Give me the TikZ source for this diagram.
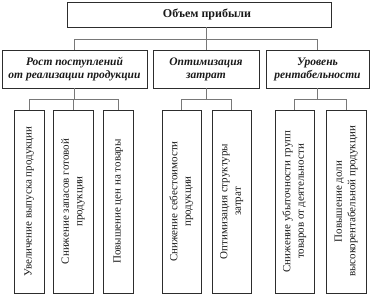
\documentclass[tikz,border=0pt]{standalone}
\usepackage{fontspec}
\setmainfont{Liberation Serif}
\usepackage{graphicx}
\usepackage{xcolor}
\usepackage{tikz}
\usetikzlibrary{positioning,calc}
\definecolor{boxline}{RGB}{45,45,45}
\definecolor{linkline}{RGB}{120,120,120}
\definecolor{textdark}{RGB}{25,25,25}
\newcommand{\vtext}[1]{\rotatebox{90}{\begin{tabular}{@{}c@{}}#1\end{tabular}}}

\begin{document}
\begin{tikzpicture}[x=1pt, y=-1pt, toplevel/.style={draw=boxline, line width=0.8pt, minimum height=25pt, inner sep=0pt, text=textdark, font=\fontsize{12}{14}\selectfont\bfseries}, factor/.style={draw=boxline, line width=0.8pt, minimum height=38pt, inner sep=0pt, align=center, text=textdark, font=\fontsize{11.5}{13}\selectfont\bfseries\itshape}, measure/.style={draw=boxline, line width=0.8pt, minimum height=183pt, inner sep=0pt, text=textdark, font=\fontsize{11}{13.5}\selectfont}, link/.style={draw=linkline, line width=0.6pt}]
\useasboundingbox (0,0) rectangle (376,300);
\node[toplevel, minimum width=264pt] (profit) at (199,14.5) {\hspace*{16pt}Объем прибыли};
\node[factor, minimum width=145pt] (revenue) at (74.5,69) {Рост поступлений\\от реализации продукции};
\node[factor, minimum width=106pt] (costs) at (206,69) {Оптимизация\\затрат};
\node[factor, minimum width=103pt] (rate) at (317.5,69) {Уровень\\рентабельности};
\coordinate (bus1) at (0,39);
\draw[link] (costs.north) -- (costs.north |- profit.south);
\draw[link] (revenue.north) |- (rate.north |- bus1) -- (rate.north);
% level 3
\node[measure, minimum width=30pt] (m1) at (29,201.5) {\vtext{Увеличение выпуска продукции}};
\node[measure, minimum width=40pt] (m2) at (73,201.5) {\vtext{Снижение запасов готовой\\продукции}};
\node[measure, minimum width=30pt] (m3) at (118,201.5) {\vtext{Повышение цен на товары}};
\node[measure, minimum width=39pt] (m4) at (181.5,201.5) {\vtext{Снижение себестоимости\\продукции}};
\node[measure, minimum width=39pt] (m5) at (231.5,201.5) {\vtext{Оптимизация структуры\\затрат}};
\node[measure, minimum width=39pt] (m6) at (294.5,201.5) {\vtext{Снижение убыточности групп\\товаров от деятельности}};
\node[measure, minimum width=40pt] (m7) at (346,201.5) {\vtext{Повышение доли\\высокорентабельной продукции}};
\coordinate (bus2) at (0,99);
\draw[link] (revenue.south) -- (revenue.south |- bus2);
\draw[link] (m1.north) |- (m3.north |- bus2) -- (m3.north);
\draw[link] (m2.north) -- (m2.north |- bus2);
\draw[link] (costs.south) -- (costs.south |- bus2);
\draw[link] (m4.north) |- (m5.north |- bus2) -- (m5.north);
\draw[link] (rate.south) -- (rate.south |- bus2);
\draw[link] (m6.north) |- (m7.north |- bus2) -- (m7.north);
\end{tikzpicture}
\end{document}
